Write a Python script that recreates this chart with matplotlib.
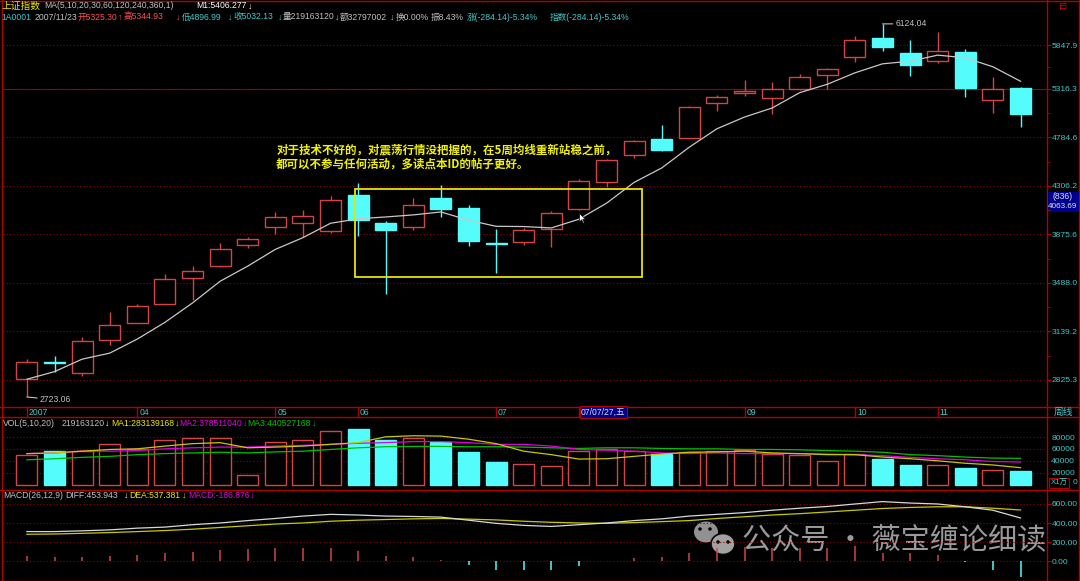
import numpy as np
import matplotlib
matplotlib.use('Agg')
import matplotlib.pyplot as plt
from matplotlib.patches import Rectangle, Ellipse
from matplotlib.path import Path
from matplotlib.ticker import NullFormatter
from matplotlib.transforms import offset_copy

# weekly bars of the Shanghai index, 2007-03 .. 2007-11-23
opens = [2829, 2940, 2867, 3085, 3200, 3333, 3527, 3621, 3788, 3943, 3971, 3905,
         4219, 3977, 3943, 4197, 4103, 3802, 3816, 3926, 4094, 4346, 4610, 4770,
         4778, 5157, 5271, 5214, 5317, 5477, 5696, 5943, 5747, 5652, 5755, 5191, 5325.30]
highs = [2958, 2977, 3101, 3272, 3335, 3559, 3623, 3808, 3858, 4070, 4083, 4210,
         4333, 3990, 4194, 4315, 4133, 3920, 3934, 4076, 4372, 4567, 4763, 4919,
         5124, 5243, 5418, 5399, 5498, 5570, 5969, 6124.04, 5908, 6012, 5797, 5458, 5344.93]
lows = [2723.06, 2877, 2852, 3051, 3195, 3330, 3359, 3615, 3760, 3880, 3858, 3892,
        3863, 3409, 3911, 4026, 3777, 3563, 3785, 3771, 4090, 4293, 4574, 4650,
        4775, 5063, 5232, 5030, 5310, 5320, 5635, 5777, 5470, 5627, 5225, 5045, 4896.99]
closes = [2937, 2933, 3074, 3183, 3321, 3520, 3582, 3758, 3841, 4024, 4030, 4179,
          4003, 3917, 4133, 4094, 3824, 3795, 3914, 4059, 4350, 4560, 4747, 4660,
          5108, 5225, 5289, 5312, 5458, 5554, 5908, 5827, 5603, 5777, 5324, 5320, 5032.13]
ma5 = [2830, 2877, 2956, 2995, 3088, 3202, 3340, 3501, 3618, 3752, 3849, 3971,
       4010, 4026, 4044, 4070, 3998, 3945, 3943, 3931, 4006, 4148, 4340, 4478,
       4685, 4876, 5002, 5101, 5274, 5371, 5506, 5615, 5647, 5722, 5689, 5579, 5406.28]

# volume in units of 10 000
volume = [50300, 57200, 57200, 68800, 60100, 74600, 78000, 77500, 15600, 71700, 74600, 89600,
          94200, 75100, 78000, 71700, 54300, 38700, 34100, 31200, 56100, 59000, 57200, 51400,
          54900, 56100, 57800, 52000, 50300, 39900, 51400, 42200, 32400, 33500, 27700, 24900, 21916]
vol_ma1 = [52000, 53200, 56100, 59000, 60100, 64700, 68800, 70500, 61800, 63000, 64700, 67600,
           70500, 80300, 82100, 81500, 76300, 68800, 56100, 50300, 42800, 43400, 47400, 51400,
           54300, 54900, 56100, 53200, 52000, 50300, 50300, 46200, 43400, 39900, 35800, 32900, 28313]
vol_ma2 = [52000, 53200, 56100, 56100, 57200, 60100, 61800, 63000, 63000, 64700, 65900, 67600,
           69400, 70500, 72300, 72300, 70500, 67600, 67600, 64700, 59000, 57800, 56100, 53200,
           52000, 53200, 52000, 52000, 52000, 51400, 50300, 48600, 45700, 43400, 41600, 38700, 37851]
vol_ma3 = [41600, 43400, 45700, 47400, 50300, 52000, 53200, 54300, 53200, 54900, 56100, 59000,
           61800, 63600, 64200, 64200, 63600, 63600, 63000, 61800, 60700, 61800, 61800, 60700,
           60100, 60100, 59000, 59000, 58400, 57200, 56100, 54300, 50300, 48600, 46200, 44500, 44053]

diff = [312, 312, 320, 330, 348, 359, 384, 402, 427, 449, 474, 492,
        485, 474, 470, 463, 431, 398, 377, 366, 384, 402, 427, 445,
        474, 492, 510, 535, 556, 574, 600, 625, 610, 600, 571, 535, 453.943]
dea = [284, 287, 294, 302, 312, 323, 337, 355, 373, 391, 402, 420,
       431, 438, 445, 449, 442, 434, 420, 409, 402, 398, 406, 416,
       427, 449, 467, 485, 499, 517, 535, 553, 564, 571, 571, 556, 537.381]
macd_hist = [57, 43, 43, 57, 65, 90, 100, 118, 129, 144, 144, 144,
             111, 57, 47, 14, -32, -86, -93, -86, -50, 2, 36, 47,
             93, 136, 147, 136, 136, 136, 165, 90, 93, 65, -10, -86, -166.876]

price_ticks = [2825.3, 3139.2, 3488.0, 3875.6, 4306.2, 4784.6, 5316.3, 5847.9]
vol_ticks = [20000, 40000, 60000, 80000]
macd_ticks = [0, 200, 400, 600]
date_pos = [0, 4, 9, 12, 17, 26, 30, 33]
date_labels = ['2007', '04', '05', '06', '07', '09', '10', '11']
cursor_idx = 20
cursor_label = '07/07/27,五'
cursor_price = 4063.69

note = ['对于技术不好的，对震荡行情没把握的，在5周均线重新站稳之前，',
        '都可以不参与任何活动，多读点本ID的帖子更好。']

RED = '#d44444'
CYAN = '#54fcfc'
TEAL = '#40c8c8'
FRAME = '#b00000'
GRID = '#8c0000'
GRAY = '#c0c0c0'
YEL = '#e8e800'
MAG = '#e000e0'
GRN = '#00c000'

SMALL = ['Liberation Sans', 'Noto Sans CJK SC', 'DejaVu Sans']
CJK = ['Noto Sans CJK SC', 'DejaVu Sans']
FS = 6.2

W, H = 1080, 581
fig = plt.figure(figsize=(W / 100, H / 100), dpi=100, facecolor='black')

bg = fig.add_axes([0, 0, 1, 1], zorder=0)
bg.set_xlim(0, W)
bg.set_ylim(H, 0)
bg.axis('off')


def px_axes(x0, y0, x1, y1):
    a = fig.add_axes([x0 / W, 1 - y1 / H, (x1 - x0) / W, (y1 - y0) / H], zorder=2)
    a.set_facecolor('none')
    for s in a.spines.values():
        s.set_visible(False)
    a.set_xlim(-0.866, 36.96)
    a.tick_params(axis='x', bottom=False, labelbottom=False)
    return a


def right_ticks(a):
    a.tick_params(axis='y', which='both', left=False, labelleft=False, right=True,
                  labelright=True, color=FRAME, labelcolor=TEAL, labelsize=6.1,
                  length=3, pad=0.6)
    for t in a.get_yticklabels():
        t.set_family(SMALL)


x = np.arange(len(closes))
o = np.array(opens)
c = np.array(closes)
up = c >= o
body_col = [RED if u else CYAN for u in up]
body_fill = ['black' if u else CYAN for u in up]

# ---- price panel
ax = px_axes(3, 22, 1047, 406.7)
ax.set_yscale('log')
ax.set_ylim(2666, 6149)
ax.set_yticks(price_ticks, labels=[f'{v:.1f}' for v in price_ticks])
ax.set_yticks([np.sqrt(a * b) for a, b in zip(price_ticks[:-1], price_ticks[1:])], minor=True)
ax.yaxis.set_minor_formatter(NullFormatter())
right_ticks(ax)
ax.tick_params(axis='y', which='minor', length=2.5)
ax.grid(axis='y', which='major', color=GRID, linestyle=(0, (1, 2)), linewidth=0.8)
ax.axhline(price_ticks[6], color='#a00000', lw=0.8, zorder=1)

ax.vlines(x, lows, highs, colors=body_col, lw=1, zorder=2)
ax.bar(x, np.abs(c - o), bottom=np.minimum(o, c), width=0.76, color=body_fill,
       edgecolor=body_col, linewidth=1, zorder=3)
ax.plot(x, ma5, color='#c8c8c8', lw=0.9, zorder=4)

ax.annotate(f'{lows[0]:.2f}', xy=(0, lows[0]), xytext=(13, -3), textcoords='offset pixels',
            color=GRAY, fontsize=FS, family=SMALL, va='center', ha='left',
            arrowprops=dict(arrowstyle='-', color=GRAY, lw=0.8, shrinkA=0, shrinkB=0))
top = int(np.argmax(highs))
ax.annotate(f'{highs[top]:.2f}', xy=(top, highs[top]), xytext=(13, 0), textcoords='offset pixels',
            color=GRAY, fontsize=FS, family=SMALL, va='center', ha='left',
            arrowprops=dict(arrowstyle='-', color=GRAY, lw=0.8, shrinkA=0, shrinkB=0))

# yellow box around the sideways zone + comment
ax.add_patch(Rectangle((11.88, 3535), 10.4, 4274 - 3535, fill=False, edgecolor='#e6e600',
                       lw=1.3, zorder=5))
ax.text(9.03, 4660, note[0], color='#f2f200', fontsize=8.3, fontweight='bold', family=CJK,
        va='center', ha='left', zorder=6)
ax.text(9.03, 4517, note[1], color='#f2f200', fontsize=8.3, fontweight='bold', family=CJK,
        va='center', ha='left', zorder=6)

# mouse pointer left on the chart
pointer = Path([(0, 0), (0, -14), (3.5, -10.5), (6, -16), (8, -15), (5.5, -9.5), (10, -9.5), (0, 0)],
               [Path.MOVETO] + [Path.LINETO] * 6 + [Path.CLOSEPOLY])
ax.plot([cursor_idx], [cursor_price], marker=pointer, ms=14, mfc='white', mec='black',
        mew=0.5, zorder=7)

# ---- date row
ad = px_axes(3, 406.7, 1047, 416.7)
ad.set_ylim(0, 1)
ad.set_yticks([])
ad.vlines(date_pos + [cursor_idx], 0, 1, colors=FRAME, lw=1)
shift = offset_copy(ad.transData, fig=fig, x=2, y=0, units='dots')
for p, lab in zip(date_pos, date_labels):
    ad.text(p, 0.45, lab, transform=shift, color=TEAL, fontsize=FS, family=SMALL,
            va='center', ha='left')
ad.text(cursor_idx, 0.45, cursor_label, transform=shift, color='#e0e0e0', fontsize=FS,
        family=SMALL, va='center', ha='left',
        bbox=dict(boxstyle='square,pad=0.15', facecolor='#000090', edgecolor=FRAME, lw=0.8))

# ---- volume panel
av = px_axes(3, 416.7, 1047, 489.5)
av.set_ylim(-8421, 114190)
av.set_yticks(vol_ticks, labels=[str(v) for v in vol_ticks])
right_ticks(av)
av.tick_params(axis='y', length=0, pad=3)
av.grid(axis='y', color=GRID, linestyle=(0, (1, 2)), linewidth=0.8)
av.bar(x, volume, width=0.76, color=body_fill, edgecolor=body_col, linewidth=1, zorder=3)
av.plot(x, vol_ma3, color=GRN, lw=0.9, zorder=4)
av.plot(x, vol_ma2, color=MAG, lw=0.9, zorder=4)
av.plot(x, vol_ma1, color='#c8c800', lw=0.9, zorder=4)

# ---- MACD panel
am = px_axes(3, 489.5, 1047, 581)
am.set_ylim(-203.5, 751.3)
am.set_yticks(macd_ticks, labels=[f'{v:.2f}' for v in macd_ticks])
right_ticks(am)
am.grid(axis='y', color=GRID, linestyle=(0, (1, 2)), linewidth=0.8)
hist_col = [RED if h >= 0 else CYAN for h in macd_hist]
am.vlines(x, 0, macd_hist, colors=hist_col, lw=1.1, zorder=3)
am.plot(x, dea, color='#c8c800', lw=0.9, zorder=4)
am.plot(x, diff, color='#d8d8d8', lw=0.9, zorder=4)

# ---- frame lines
for yy in [0.5, 406.7, 416.7, 489.5, 580.5]:
    bg.plot([0, W], [yy, yy], color=FRAME, lw=1)
for xx in [1.5, 1047, 1079]:
    bg.plot([xx, xx], [0, H], color=FRAME, lw=1)

# ---- header texts, laid left to right without overlap
renderer = fig.canvas.get_renderer()


def seg(items, y, start=0):
    end = start
    for xx, s, col in items:
        t = bg.text(max(xx, end + 0.5), y, s, color=col, fontsize=FS, family=SMALL,
                    va='center', ha='left')
        end = t.get_window_extent(renderer).x1


t0 = bg.text(2, 6, '上证指数', color=YEL, fontsize=7, family=CJK, va='center', ha='left')
seg([(44, 'MA(5,10,20,30,60,120,240,360,1)', GRAY), (196.5, 'M1:5406.277', '#ffffff'),
     (236, '↓', '#ffffff')], 6, t0.get_window_extent(renderer).x1 + 3)
seg([(1.7, '1A0001', TEAL), (34.5, '2007/11/23', GRAY), (77.6, '开5325.30', '#ff5050'),
     (118, '↑', '#ff5050'), (123.4, '高5344.93', '#ff5050'), (176, '↓', '#ff5050'),
     (182, '低4896.99', TEAL), (227.6, '↓', TEAL), (233, '收5032.13', TEAL), (277.6, '↓', TEAL),
     (282.8, '量219163120', GRAY), (334.5, '↓', GRAY), (339.7, '额32797002', GRAY),
     (390, '↓', GRAY), (395.5, '换0.00%', GRAY), (431, '振8.43%', GRAY),
     (467, '涨(-284.14)-5.34%', TEAL), (550, '指数(-284.14)-5.34%', TEAL)], 17)
seg([(2.8, 'VOL(5,10,20)', GRAY), (61.4, '219163120', GRAY), (105, '↓', '#ffffff'),
     (111, 'MA1:283139168', YEL), (172.4, '↓', YEL), (178.3, 'MA2:378511040', MAG),
     (240.3, '↓', MAG), (245.5, 'MA3:440527168', GRN), (308, '↓', GRN)], 423)
seg([(2.8, 'MACD(26,12,9)', GRAY), (65.5, 'DIFF:453.943', GRAY), (123.4, '↓', '#ffffff'),
     (129.3, 'DEA:537.381', YEL), (181.7, '↓', YEL), (188, 'MACD:-166.876', MAG),
     (249, '↓', MAG)], 495)

# right column extras
bg.text(1063, 6, '曰', color='#e00000', fontsize=6, family=CJK, va='center', ha='center')
bg.text(1054, 411.7, '周线', color=TEAL, fontsize=7, family=CJK, va='center', ha='left')
bg.add_patch(Rectangle((1047.5, 191.5), 31, 20, facecolor='#000090', edgecolor='none', zorder=3))
bg.text(1063, 196.5, '(836)', color='#e0e0e0', fontsize=FS, family=SMALL, va='center',
        ha='center', zorder=4)
bg.text(1063, 206.5, f'{cursor_price:.2f}', color='#e0e0e0', fontsize=5.9, family=SMALL,
        va='center', ha='center', zorder=4)
bg.add_patch(Rectangle((1049, 478), 20, 10, fill=False, edgecolor=FRAME, lw=0.8))
bg.text(1059, 483, 'X1万', color=TEAL, fontsize=5.5, family=SMALL, va='center', ha='center')
bg.text(1073, 482, '0', color=TEAL, fontsize=6.1, family=SMALL, va='center', ha='left')

# watermark
wm = '#acacac'
bg.add_patch(Ellipse((706, 532), 24, 21, facecolor=wm, edgecolor='none', alpha=0.85, zorder=5))
bg.add_patch(Ellipse((723, 544), 24, 21, facecolor=wm, edgecolor='black', lw=1.2, alpha=0.95,
                     zorder=6))
for ex, ey in [(700, 529), (710, 529), (718, 542), (728, 542)]:
    bg.add_patch(Ellipse((ex, ey), 3.5, 3.5, facecolor='black', edgecolor='none', zorder=7))
bg.text(742, 541, '公众号 · 薇宝缠论细读', color=wm, alpha=0.9, fontsize=21, family=CJK,
        va='center', ha='left', zorder=5)

fig.savefig('out.png', dpi=100, facecolor='black')
